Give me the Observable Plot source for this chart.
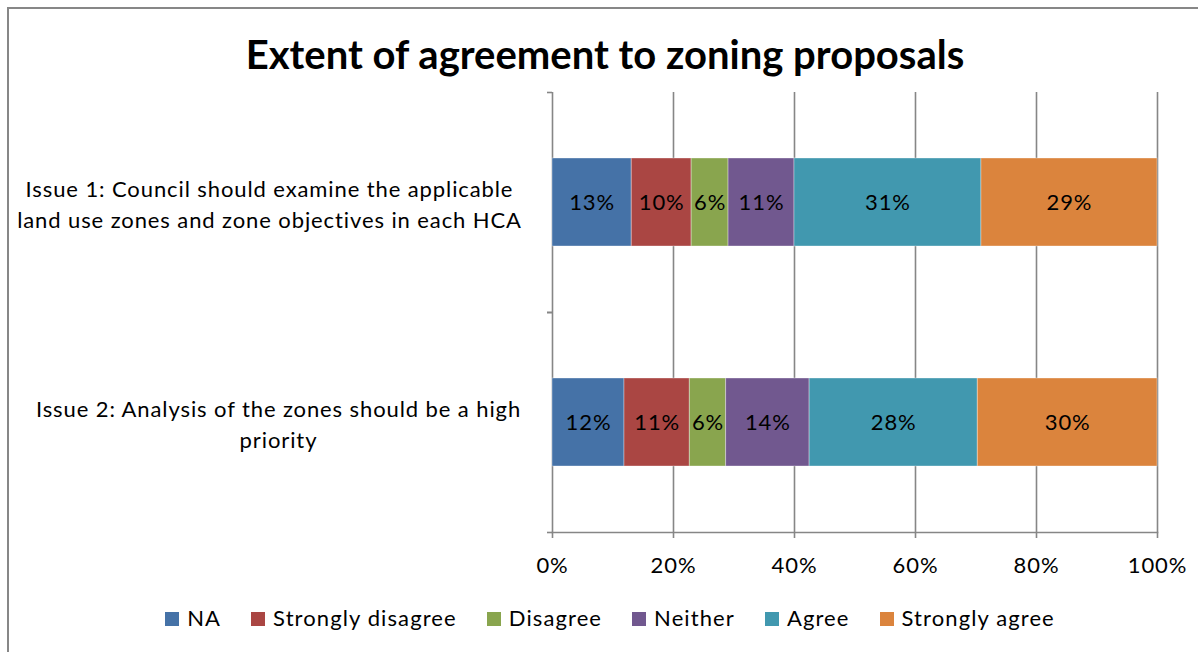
<!DOCTYPE html>
<html>
<head>
<meta charset="utf-8">
<script src="https://cdn.jsdelivr.net/npm/d3@7"></script>
<script src="https://cdn.jsdelivr.net/npm/@observablehq/plot@0.6"></script>
<style>
  html, body { margin: 0; padding: 0; background: #fff; }
  body { width: 1198px; height: 652px; overflow: hidden; position: relative; font-family: Lato, "Open Sans", sans-serif; }
  #frame { position: absolute; left: 7px; top: 7px; width: 1300px; height: 700px; border-left: 2px solid #878787; border-top: 2px solid #878787; }
  #title { position: absolute; left: 0; top: 28px; width: 1198px; text-align: center; padding-left: 12px; box-sizing: border-box; font-size: 40px; font-weight: bold; color: #000; line-height: 52px; }
  #chart { position: absolute; left: 0; top: 80px; }
  #legend { position: absolute; left: 0; top: 603px; width: 1198px; display: flex; justify-content: center; padding-left: 22px; box-sizing: border-box; font-size: 22px; letter-spacing: 1.1px; color: #000; line-height: 30px; }
  .item { display: flex; align-items: center; margin-right: 30px; }
  .item:last-child { margin-right: 0; }
  .sw { width: 14px; height: 14px; margin-right: 8px; margin-top: 2px; }
</style>
</head>
<body>
<div id="frame"></div>
<div id="title">Extent of agreement to zoning proposals</div>
<div id="chart"></div>
<div id="legend"></div>
<script>
const issues = [
  "Issue 1: Council should examine the applicable\nland use zones and zone objectives in each HCA",
  "Issue 2: Analysis of the zones should be a high\npriority"
];
const categories = ["NA", "Strongly disagree", "Disagree", "Neither", "Agree", "Strongly agree"];
const colors = ["#4572A7", "#AA4643", "#89A54E", "#71588F", "#4198AF", "#DB843D"];
const issue1Values = [13.1, 9.9, 6.1, 10.9, 30.9, 29.1];
const issue2Values = [11.9, 10.8, 6.0, 13.8, 27.8, 29.7];
const xTicks = [0, 0.2, 0.4, 0.6, 0.8, 1];

const seriesByIssue = [issue1Values, issue2Values];
const data = [];
issues.forEach((issue, i) => {
  categories.forEach((cat, j) => {
    data.push({issue, category: cat, value: seriesByIssue[i][j]});
  });
});

const gray = "#868686";
const step = 110; // half band step in px (layout)

const plot = Plot.plot({
  width: 1198,
  height: 520,
  marginLeft: 552,
  marginRight: 41,
  marginTop: 12,
  marginBottom: 68,
  style: {fontFamily: "Lato, 'Open Sans', sans-serif", fontSize: "22px", letterSpacing: "0.9px", color: "#000", background: "transparent"},
  x: {domain: [0, 1], axis: null},
  y: {domain: issues, paddingInner: 0.6, paddingOuter: 0.3, axis: null},
  color: {domain: categories, range: colors},
  marks: [
    Plot.gridX(xTicks.slice(1), {stroke: gray, strokeOpacity: 1, strokeWidth: 1.6}),
    Plot.ruleX([0], {stroke: gray, strokeWidth: 1.6}),
    Plot.barX(data, Plot.stackX({x: "value", y: "issue", fill: "category", offset: "normalize", order: null, stroke: "#fff", strokeOpacity: 0.35, strokeWidth: 1})),
    Plot.text(data, Plot.stackX({x: "value", y: "issue", z: "category", offset: "normalize", order: null, text: d => Math.round(d.value) + "%", fill: "#000", fontSize: 22})),
    Plot.axisY({ticks: issues, tickSize: 5, tickFormat: () => "", label: null, stroke: gray, strokeWidth: 1.6, dy: -step}),
    Plot.axisY({ticks: issues, tickSize: 5, tickFormat: () => "", label: null, stroke: gray, strokeWidth: 1.6, dy: step}),
    Plot.axisY({ticks: [issues[0]], tickSize: 0, label: null, textAnchor: "middle", dx: -274, fontSize: 22, lineHeight: 1.4, fill: "#000", style: {letterSpacing: "1.25px"}}),
    Plot.axisY({ticks: [issues[1]], tickSize: 0, label: null, textAnchor: "middle", dx: -265, fontSize: 22, lineHeight: 1.4, fill: "#000"}),
    Plot.frame({anchor: "bottom", stroke: gray, strokeWidth: 1.6}),
    Plot.axisX({ticks: xTicks, tickSize: 6, tickPadding: 19, label: null, tickFormat: d3.format(".0%"), stroke: gray, strokeWidth: 1.6, fontSize: 22, fill: "#000"})
  ]
});
document.getElementById("chart").appendChild(plot);

const legend = document.getElementById("legend");
categories.forEach((c, i) => {
  const it = document.createElement("div");
  it.className = "item";
  const sw = document.createElement("div");
  sw.className = "sw";
  sw.style.background = colors[i];
  const t = document.createElement("span");
  t.textContent = c;
  it.appendChild(sw);
  it.appendChild(t);
  legend.appendChild(it);
});
</script>
</body>
</html>
